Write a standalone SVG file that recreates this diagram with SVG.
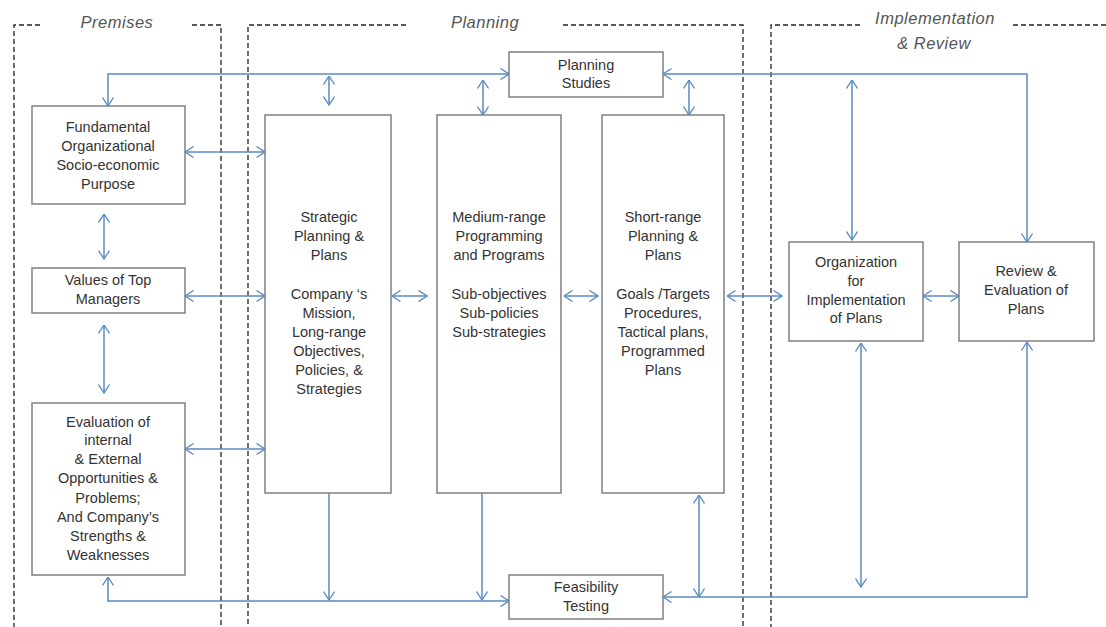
<svg xmlns="http://www.w3.org/2000/svg" width="1106" height="627" viewBox="0 0 1106 627">
<defs>
<marker id="ah" viewBox="0 0 10 12" refX="9.5" refY="6" markerWidth="10" markerHeight="12" markerUnits="userSpaceOnUse" orient="auto-start-reverse">
<path d="M1,0.5 L9.5,6 L1,11.5" fill="none" stroke="#5a8ac0" stroke-width="1.3"/>
</marker>
<style>
.zone{fill:none;stroke:#222;stroke-width:1.3;stroke-dasharray:5 3}
.box{fill:#fff;stroke:#808080;stroke-width:1.5}
.t{font-family:"Liberation Sans",Arial,sans-serif;font-size:14.5px;fill:#333;text-anchor:middle}
.zl{font-family:"Liberation Sans",Arial,sans-serif;font-size:16.5px;font-style:italic;fill:#555;text-anchor:middle;letter-spacing:0.5px}
.c{fill:none;stroke:#5a8ac0;stroke-width:1.5}
.b{marker-start:url(#ah);marker-end:url(#ah)}
.e{marker-end:url(#ah)}
</style>
</defs>
<rect width="1106" height="627" fill="#fff"/>
<g id="zones">
<path class="zone" d="M40,25 H14 V627 M192,25 H221 V627"/>
<path class="zone" d="M406,25 H248 V627 M563,25 H743 V627"/>
<path class="zone" d="M860,25 H771 V627 M1013,25 H1106"/>
<text class="zl" x="117" y="28">Premises</text>
<text class="zl" x="485" y="28">Planning</text>
<text class="zl" x="935" y="24">Implementation</text>
<text class="zl" x="934" y="49">&amp; Review</text>
</g>
<g id="connectors">
<path class="c b" d="M108,106 V74 H509"/>
<path class="c b" d="M663,74 H1027 V242"/>
<path class="c b" d="M852,80 V240"/>
<path class="c b" d="M329,76 V105"/>
<path class="c b" d="M483,80 V115"/>
<path class="c b" d="M689,80 V115"/>
<path class="c b" d="M185,152 H265"/>
<path class="c b" d="M185,296 H265"/>
<path class="c b" d="M185,449 H265"/>
<path class="c b" d="M104,214 V259"/>
<path class="c b" d="M104,325 V393"/>
<path class="c b" d="M392,296 H427"/>
<path class="c b" d="M564,296 H598"/>
<path class="c b" d="M727,296 H782"/>
<path class="c b" d="M923,296 H959"/>
<path class="c e" d="M329,493 V600"/>
<path class="c e" d="M482,493 V600"/>
<path class="c b" d="M699,495 V597"/>
<path class="c b" d="M108,577 V601 H509"/>
<path class="c b" d="M1027,342 V597 H663"/>
<path class="c b" d="M861,343 V587"/>
</g>
<g id="fundamental">
<rect class="box" x="32" y="106" width="153" height="98"/>
<text class="t" x="108" y="132">Fundamental</text>
<text class="t" x="108" y="151">Organizational</text>
<text class="t" x="108" y="170">Socio-economic</text>
<text class="t" x="108" y="189">Purpose</text>
</g>
<g id="values">
<rect class="box" x="32" y="268" width="153" height="45"/>
<text class="t" x="108" y="285">Values of Top</text>
<text class="t" x="108" y="304">Managers</text>
</g>
<g id="evaluation">
<rect class="box" x="32" y="403" width="153" height="172"/>
<text class="t" x="108" y="427">Evaluation of</text>
<text class="t" x="108" y="445">internal</text>
<text class="t" x="108" y="464">&amp; External</text>
<text class="t" x="108" y="483">Opportunities &amp;</text>
<text class="t" x="108" y="503">Problems;</text>
<text class="t" x="108" y="522">And Company’s</text>
<text class="t" x="108" y="541">Strengths  &amp;</text>
<text class="t" x="108" y="560">Weaknesses</text>
</g>
<g id="strategic">
<rect class="box" x="265" y="115" width="126" height="378"/>
<text class="t" x="329" y="222">Strategic</text>
<text class="t" x="329" y="241">Planning &amp;</text>
<text class="t" x="329" y="260">Plans</text>
<text class="t" x="329" y="299">Company ‘s</text>
<text class="t" x="329" y="318">Mission,</text>
<text class="t" x="329" y="337">Long-range</text>
<text class="t" x="329" y="356">Objectives,</text>
<text class="t" x="329" y="375">Policies, &amp;</text>
<text class="t" x="329" y="394">Strategies</text>
</g>
<g id="medium">
<rect class="box" x="437" y="115" width="124" height="378"/>
<text class="t" x="499" y="222">Medium-range</text>
<text class="t" x="499" y="241">Programming</text>
<text class="t" x="499" y="260">and Programs</text>
<text class="t" x="499" y="299">Sub-objectives</text>
<text class="t" x="499" y="318">Sub-policies</text>
<text class="t" x="499" y="337">Sub-strategies</text>
</g>
<g id="short">
<rect class="box" x="602" y="115" width="122" height="378"/>
<text class="t" x="663" y="222">Short-range</text>
<text class="t" x="663" y="241">Planning &amp;</text>
<text class="t" x="663" y="260">Plans</text>
<text class="t" x="663" y="299">Goals /Targets</text>
<text class="t" x="663" y="318">Procedures,</text>
<text class="t" x="663" y="337">Tactical plans,</text>
<text class="t" x="663" y="356">Programmed</text>
<text class="t" x="663" y="375">Plans</text>
</g>
<g id="planning-studies">
<rect class="box" x="509" y="52" width="154" height="45"/>
<text class="t" x="586" y="70">Planning</text>
<text class="t" x="586" y="88">Studies</text>
</g>
<g id="feasibility">
<rect class="box" x="509" y="575" width="154" height="44"/>
<text class="t" x="586" y="592">Feasibility</text>
<text class="t" x="586" y="611">Testing</text>
</g>
<g id="organization">
<rect class="box" x="789" y="242" width="134" height="99"/>
<text class="t" x="856" y="267">Organization</text>
<text class="t" x="856" y="286">for</text>
<text class="t" x="856" y="305">Implementation</text>
<text class="t" x="856" y="323">of Plans</text>
</g>
<g id="review">
<rect class="box" x="959" y="242" width="135" height="99"/>
<text class="t" x="1026" y="276">Review &amp;</text>
<text class="t" x="1026" y="295">Evaluation of</text>
<text class="t" x="1026" y="314">Plans</text>
</g>
</svg>
